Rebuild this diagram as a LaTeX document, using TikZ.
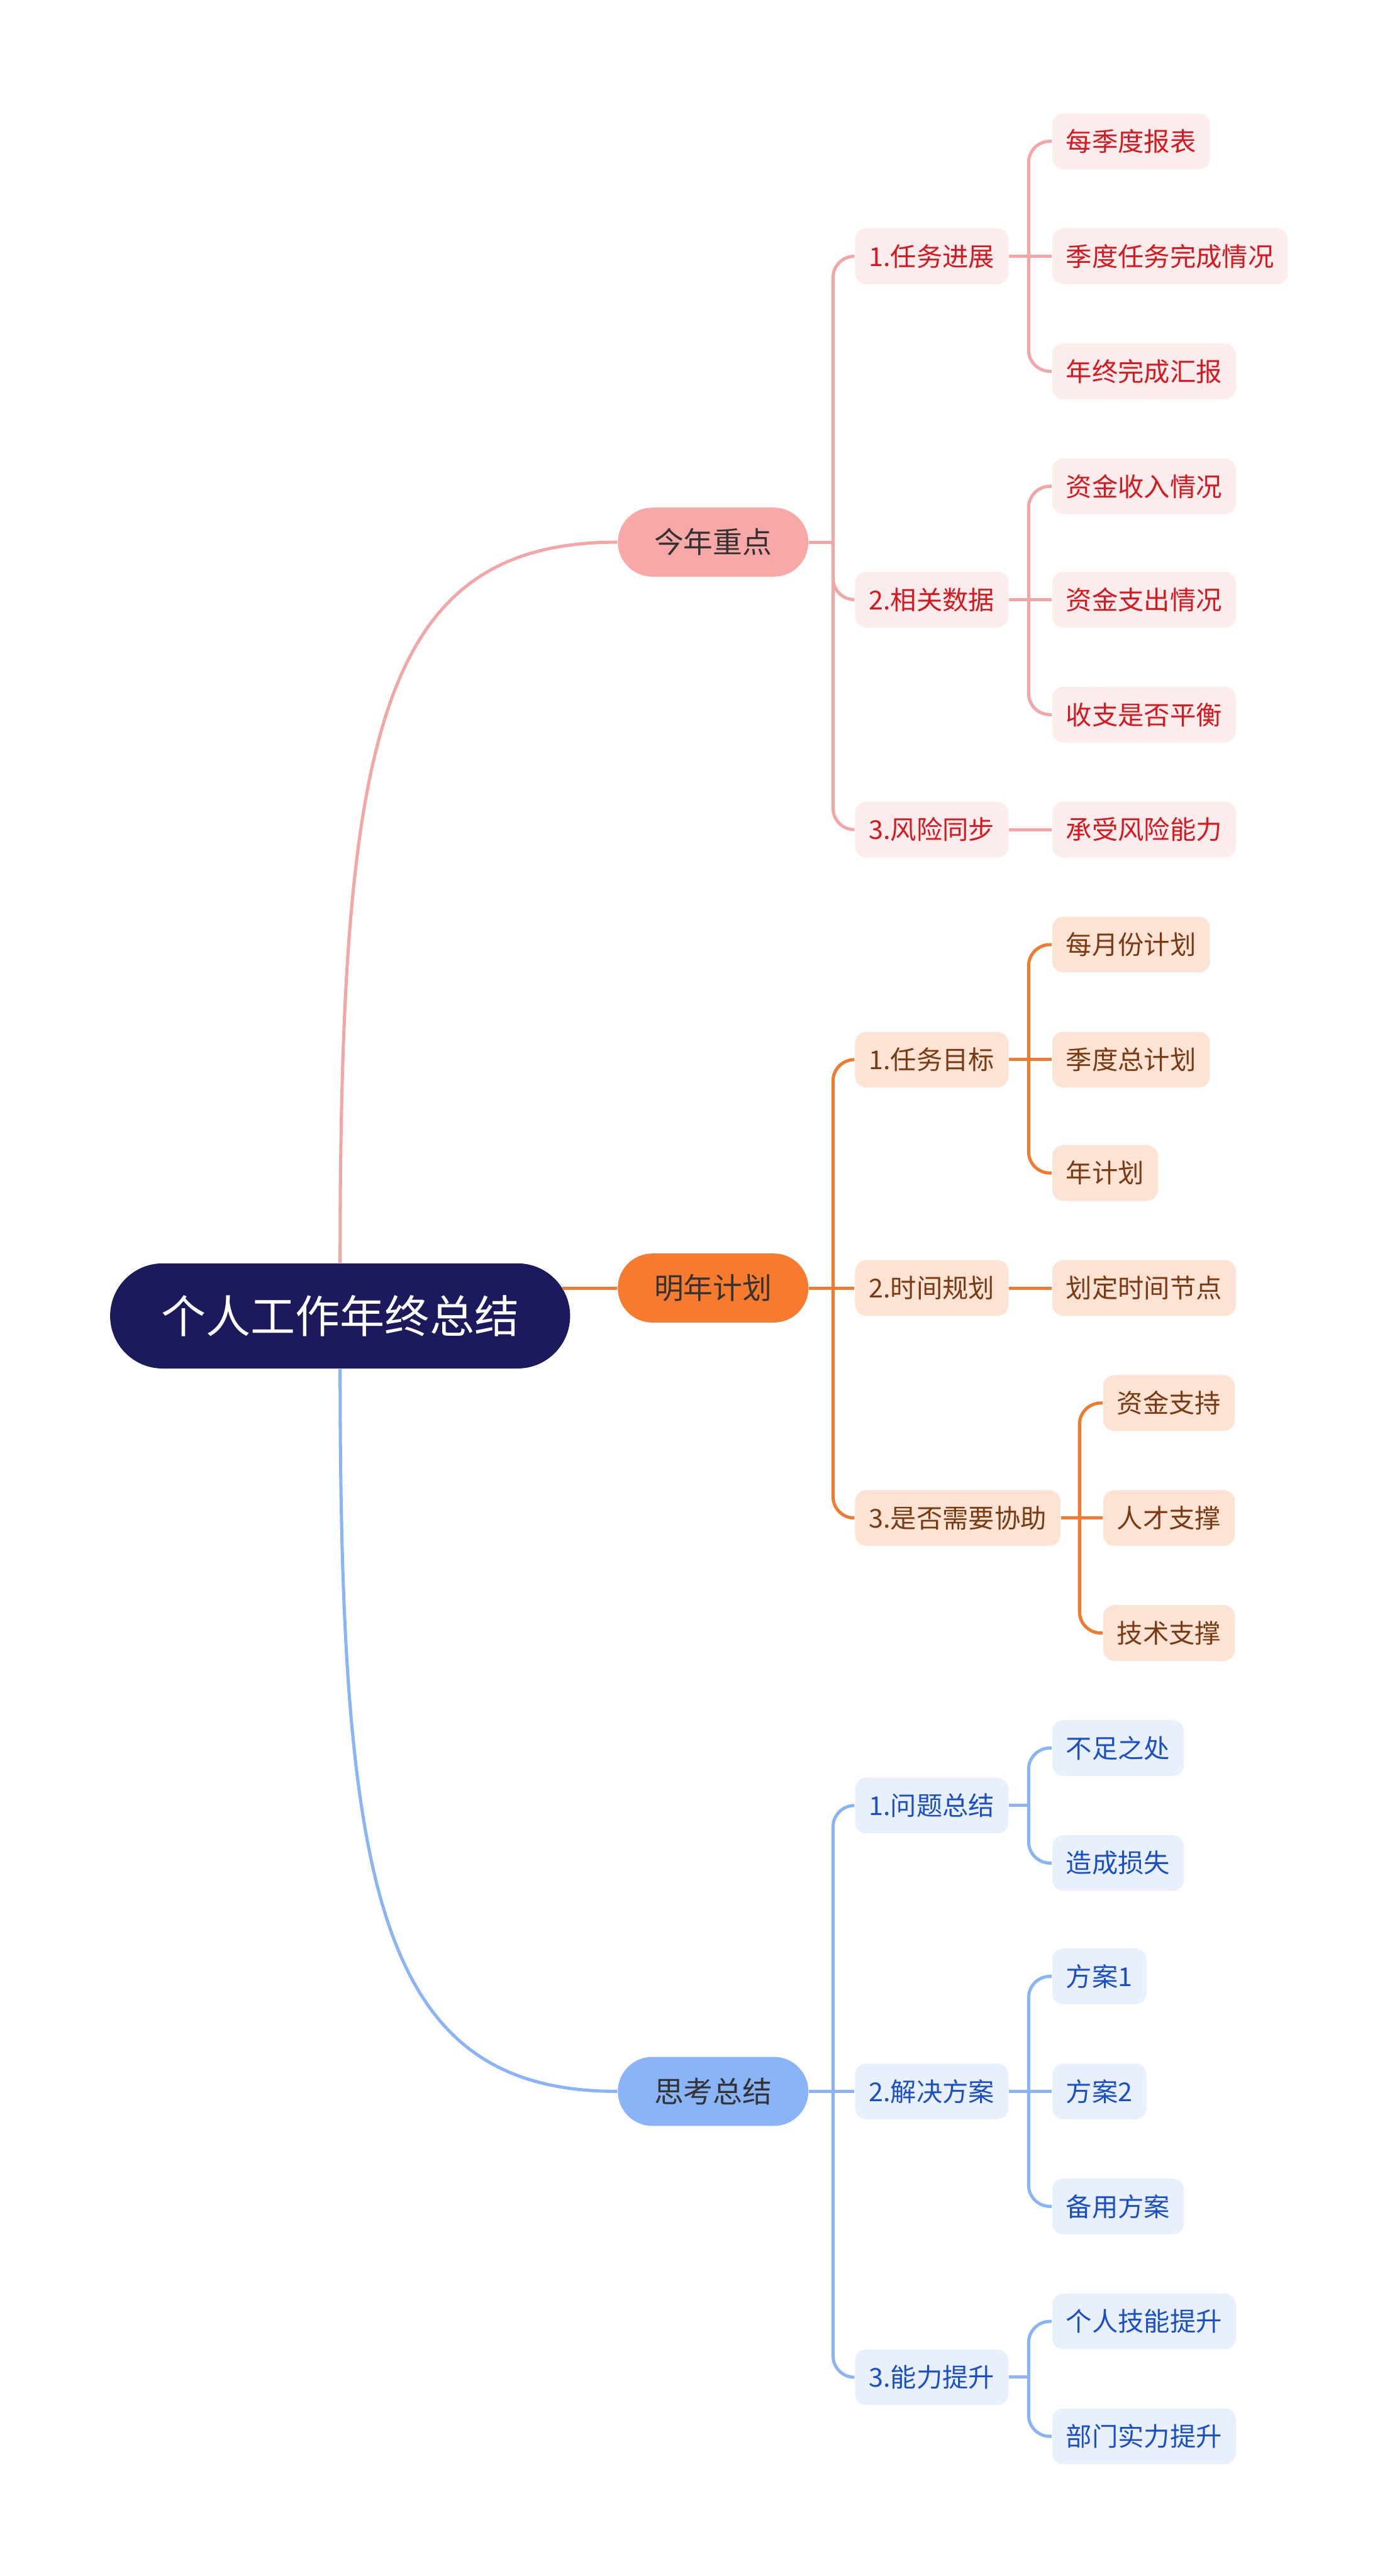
\documentclass[tikz,border=0pt]{standalone}
\usepackage{fontspec}
\setmainfont{Noto Sans CJK SC}
\usepackage{tikz}

\definecolor{rootc}{HTML}{1C1A5C}
\definecolor{topict}{HTML}{333333}
\definecolor{pinkl}{HTML}{F4A6A6}
\definecolor{pinktop}{HTML}{F9A8A8}
\definecolor{pinkf}{HTML}{FDECEC}
\definecolor{pinkt}{HTML}{D8181E}
\definecolor{orangel}{HTML}{F27A2E}
\definecolor{orangetop}{HTML}{F77B2F}
\definecolor{orangef}{HTML}{FDE3D3}
\definecolor{oranget}{HTML}{7A3A14}
\definecolor{bluel}{HTML}{8AB4F8}
\definecolor{bluetop}{HTML}{8AB4F8}
\definecolor{bluef}{HTML}{E8F0FE}
\definecolor{bluet}{HTML}{1A4FC9}

\begin{document}
\begin{tikzpicture}[x=0.02cm, y=-0.02cm,
        root/.style={rectangle, rounded corners=0.64cm, fill=rootc, text=white, minimum width=5.6cm, minimum height=1.28cm, font=\fontsize{15.5}{18}\selectfont},
        topic/.style={rectangle, rounded corners=0.42cm, minimum width=2.32cm, minimum height=0.84cm, text=topict, font=\fontsize{10.2}{12}\selectfont},
        leaf/.style={rectangle, rounded corners=0.14cm, anchor=west, inner xsep=0.17cm, minimum height=0.68cm, font=\fontsize{9}{11}\selectfont},
        pleaf/.style={leaf, fill=pinkf, text=pinkt},
        oleaf/.style={leaf, fill=orangef, text=oranget},
        bleaf/.style={leaf, fill=bluef, text=bluet},
        pline/.style={draw=pinkl, line width=1.1pt},
        oline/.style={draw=orangel, line width=1.1pt},
        bline/.style={draw=bluel, line width=1.1pt},
        elbow/.style={rounded corners=0.26cm}
    ]
        \useasboundingbox (0,0) rectangle (850,1568);

        % Root and topics
        \node[root] (root) at (207,801) {个人工作年终总结};
        \node[topic, fill=pinktop] (jn) at (434,330) {今年重点};
        \node[topic, fill=orangetop] (mn) at (434,784) {明年计划};
        \node[topic, fill=bluetop] (sk) at (434,1273) {思考总结};

        % Pink branch
        \node[pleaf] (jn1) at (520,156) {1.任务进展};
        \node[pleaf] (jn2) at (520,365) {2.相关数据};
        \node[pleaf] (jn3) at (520,505) {3.风险同步};
        \node[pleaf] (jn1a) at (640,86) {每季度报表};
        \node[pleaf] (jn1b) at (640,156) {季度任务完成情况};
        \node[pleaf] (jn1c) at (640,226) {年终完成汇报};
        \node[pleaf] (jn2a) at (640,296) {资金收入情况};
        \node[pleaf] (jn2b) at (640,365) {资金支出情况};
        \node[pleaf] (jn2c) at (640,435) {收支是否平衡};
        \node[pleaf] (jn3a) at (640,505) {承受风险能力};

        % Orange branch
        \node[oleaf] (mn1) at (520,645) {1.任务目标};
        \node[oleaf] (mn2) at (520,784) {2.时间规划};
        \node[oleaf] (mn3) at (520,924) {3.是否需要协助};
        \node[oleaf] (mn1a) at (640,575) {每月份计划};
        \node[oleaf] (mn1b) at (640,645) {季度总计划};
        \node[oleaf] (mn1c) at (640,714) {年计划};
        \node[oleaf] (mn2a) at (640,784) {划定时间节点};
        \node[oleaf] (mn3a) at (671,854) {资金支持};
        \node[oleaf] (mn3b) at (671,924) {人才支撑};
        \node[oleaf] (mn3c) at (671,994) {技术支撑};

        % Blue branch
        \node[bleaf] (sk1) at (520,1099) {1.问题总结};
        \node[bleaf] (sk2) at (520,1273) {2.解决方案};
        \node[bleaf] (sk3) at (520,1447) {3.能力提升};
        \node[bleaf] (sk1a) at (640,1064) {不足之处};
        \node[bleaf] (sk1b) at (640,1134) {造成损失};
        \node[bleaf] (sk2a) at (640,1203) {方案1};
        \node[bleaf] (sk2b) at (640,1273) {方案2};
        \node[bleaf] (sk2c) at (640,1343) {备用方案};
        \node[bleaf] (sk3a) at (640,1413) {个人技能提升};
        \node[bleaf] (sk3b) at (640,1483) {部门实力提升};

        % Junctions
        \coordinate (jnj) at (507,330);
        \coordinate (jn1j) at (626,156);
        \coordinate (jn2j) at (626,365);
        \coordinate (mnj) at (507,784);
        \coordinate (mn1j) at (626,645);
        \coordinate (mn3j) at (657,924);
        \coordinate (skj) at (507,1273);
        \coordinate (sk1j) at (626,1099);
        \coordinate (sk2j) at (626,1273);
        \coordinate (sk3j) at (626,1447);

        % Root connectors
        \draw[pline] (root.north) .. controls (207,450) and (230,330) .. (jn.west);
        \draw[oline] (root.east |- mn.west) ++(-5,0) -- (mn.west);
        \draw[bline] (root.south) .. controls (207,1150) and (230,1273) .. (sk.west);

        % Pink connectors
        \draw[pline] (jn.east) -- (jnj);
        \draw[pline, elbow] (jnj) |- (jn1.west);
        \draw[pline, elbow] (jnj) |- (jn2.west);
        \draw[pline, elbow] (jnj) |- (jn3.west);
        \draw[pline] (jn1.east) -- (jn1b.west);
        \draw[pline, elbow] (jn1j) |- (jn1a.west);
        \draw[pline, elbow] (jn1j) |- (jn1c.west);
        \draw[pline] (jn2.east) -- (jn2b.west);
        \draw[pline, elbow] (jn2j) |- (jn2a.west);
        \draw[pline, elbow] (jn2j) |- (jn2c.west);
        \draw[pline] (jn3.east) -- (jn3a.west);

        % Orange connectors
        \draw[oline] (mn.east) -- (mn2.west);
        \draw[oline, elbow] (mnj) |- (mn1.west);
        \draw[oline, elbow] (mnj) |- (mn3.west);
        \draw[oline] (mn1.east) -- (mn1b.west);
        \draw[oline, elbow] (mn1j) |- (mn1a.west);
        \draw[oline, elbow] (mn1j) |- (mn1c.west);
        \draw[oline] (mn2.east) -- (mn2a.west);
        \draw[oline] (mn3.east) -- (mn3b.west);
        \draw[oline, elbow] (mn3j) |- (mn3a.west);
        \draw[oline, elbow] (mn3j) |- (mn3c.west);

        % Blue connectors
        \draw[bline] (sk.east) -- (sk2.west);
        \draw[bline, elbow] (skj) |- (sk1.west);
        \draw[bline, elbow] (skj) |- (sk3.west);
        \draw[bline] (sk1.east) -- (sk1j);
        \draw[bline, elbow] (sk1j) |- (sk1a.west);
        \draw[bline, elbow] (sk1j) |- (sk1b.west);
        \draw[bline] (sk2.east) -- (sk2b.west);
        \draw[bline, elbow] (sk2j) |- (sk2a.west);
        \draw[bline, elbow] (sk2j) |- (sk2c.west);
        \draw[bline] (sk3.east) -- (sk3j);
        \draw[bline, elbow] (sk3j) |- (sk3a.west);
        \draw[bline, elbow] (sk3j) |- (sk3b.west);
    \end{tikzpicture}
\end{document}
